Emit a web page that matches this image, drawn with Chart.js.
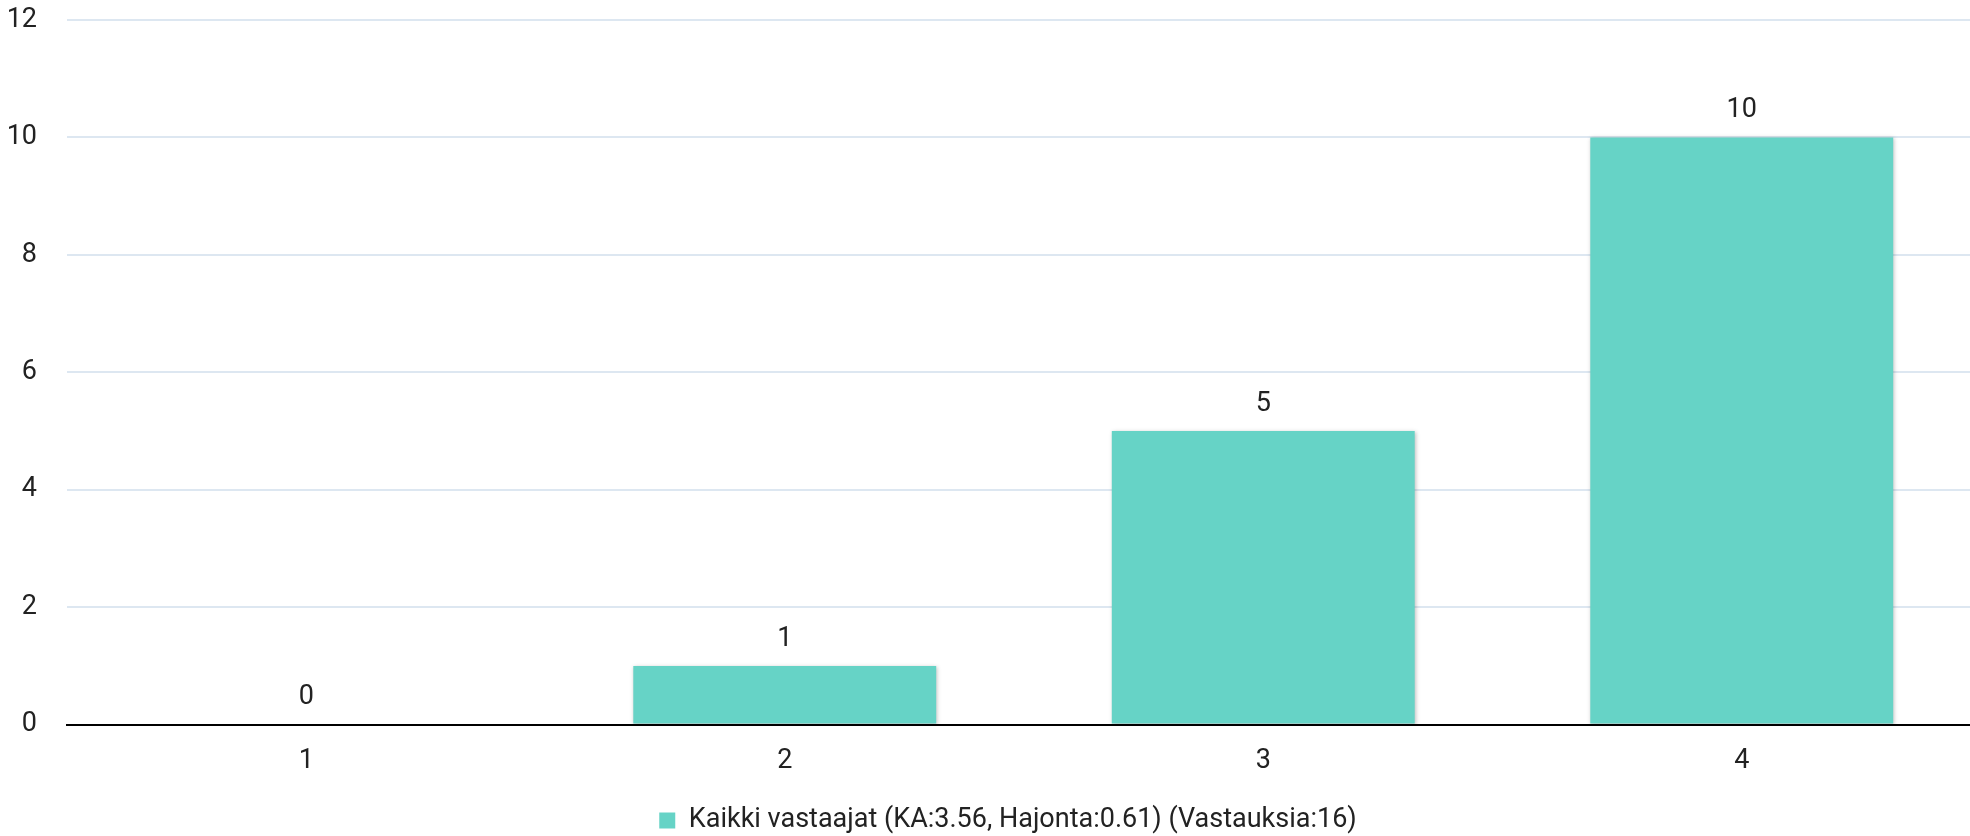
<!DOCTYPE html>
<html>
<head>
<meta charset="utf-8">
<script src="https://cdn.jsdelivr.net/npm/chart.js@4"></script>
<style>
  html, body { margin: 0; padding: 0; background: #fff; overflow: hidden; }
  #wrap { width: 2016px; height: 836px; }
</style>
</head>
<body>
<div id="wrap"><canvas id="chart"></canvas></div>
<script>
const categories = ['1', '2', '3', '4'];
const counts = [0, 1, 5, 10];
const seriesLabel = 'Kaikki vastaajat (KA:3.56, Hajonta:0.61) (Vastauksia:16)';
const yTicks = [0, 2, 4, 6, 8, 10, 12];

const FONT = { family: 'Roboto', size: 27 };

// value labels above the bars
const valueLabels = {
  id: 'valueLabels',
  afterDatasetsDraw(chart) {
    const ctx = chart.ctx;
    const meta = chart.getDatasetMeta(0);
    ctx.save();
    ctx.font = FONT.size + 'px ' + FONT.family;
    ctx.fillStyle = '#222';
    ctx.textAlign = 'center';
    ctx.textBaseline = 'middle';
    meta.data.forEach((bar, i) => {
      ctx.fillText(String(counts[i]), bar.x, bar.y - 27);
    });
    ctx.restore();
  }
};

// soft shadow round the bars
const barShadow = {
  id: 'barShadow',
  beforeDatasetDraw(chart) {
    const ctx = chart.ctx;
    ctx.save();
    ctx.shadowColor = 'rgba(0,0,0,0.25)';
    ctx.shadowBlur = 4;
    ctx.shadowOffsetX = 1;
    ctx.shadowOffsetY = 1;
  },
  afterDatasetDraw(chart) {
    chart.ctx.restore();
  }
};

new Chart(document.getElementById('chart').getContext('2d'), {
  type: 'bar',
  data: {
    labels: categories,
    datasets: [{
      label: seriesLabel,
      data: counts,
      backgroundColor: '#66d3c6',
      borderWidth: 0,
      categoryPercentage: 1,
      barPercentage: 0.633
    }]
  },
  options: {
    responsive: true,
    maintainAspectRatio: false,
    animation: false,
    layout: { padding: { top: 20, right: 0, left: 0, bottom: -8 } },
    scales: {
      x: {
        afterFit: axis => { axis.paddingLeft = 0; axis.paddingRight = 35; },
        grid: { display: false, drawTicks: false },
        border: { color: '#000', width: 2 },
        ticks: { color: '#222', font: FONT, padding: 20 }
      },
      y: {
        min: 0,
        max: 12,
        afterBuildTicks: axis => { axis.ticks = yTicks.map(v => ({ value: v })); },
        afterFit: axis => { axis.width = 67; axis.paddingTop = 0; axis.paddingBottom = 0; },
        grid: { color: '#dde7f1', lineWidth: 2, drawTicks: false },
        border: { display: false },
        ticks: { color: '#222', font: FONT, padding: 30 }
      }
    },
    plugins: {
      legend: {
        position: 'bottom',
        labels: {
          color: '#222',
          font: FONT,
          boxWidth: 16,
          boxHeight: 16,
          padding: 10
        }
      },
      tooltip: { enabled: false }
    }
  },
  plugins: [barShadow, valueLabels]
});
</script>
</body>
</html>
